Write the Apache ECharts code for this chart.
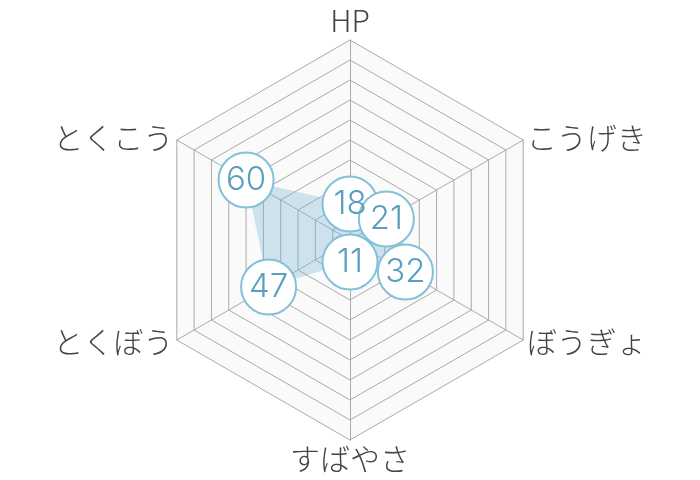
<!DOCTYPE html>
<html><head><meta charset="utf-8">
<script src="https://cdn.jsdelivr.net/npm/echarts@6/dist/echarts.min.js"></script>
<style>html,body{margin:0;padding:0;background:#fff}#c{width:700px;height:480px}</style>
</head><body><div id="c"></div>
<script>
// Categories clockwise from top, as in the reference
var categories = ['HP', 'こうげき', 'ぼうぎょ', 'すばやさ', 'とくぼう', 'とくこう'];
var values = [18, 21, 32, 11, 47, 60];
var maxValue = 100;

// ECharts radar runs counter-clockwise, so list the axes in reverse after HP
var order = [0, 5, 4, 3, 2, 1];
var radarCats = order.map(function (i) { return categories[i]; });
var radarVals = order.map(function (i) { return values[i]; });

var chart = echarts.init(document.getElementById('c'), null, {renderer: 'canvas'});
chart.setOption({
  animation: false,
  radar: {
    center: ['50%', '50%'],
    radius: 200,
    startAngle: 90,
    splitNumber: 10,
    shape: 'polygon',
    nameGap: 4,
    axisName: {
      color: '#444',
      fontSize: 30,
      fontWeight: 300,
      fontFamily: '"Noto Sans CJK JP", sans-serif'
    },
    splitLine: {lineStyle: {color: '#aaaaaa', width: 1}},
    splitArea: {show: true, areaStyle: {color: ['#fafafa']}},
    axisLine: {lineStyle: {color: '#aaaaaa', width: 1}},
    indicator: radarCats.map(function (c) { return {name: c, max: maxValue, min: 0}; })
  },
  series: [{
    type: 'radar',
    symbol: 'circle',
    symbolSize: 55,
    itemStyle: {color: '#ffffff', borderColor: '#84c1d9', borderWidth: 2},
    lineStyle: {width: 0, color: 'rgba(116,180,208,0.45)'},
    areaStyle: {color: 'rgba(116,180,208,0.47)'},
    label: {
      show: true,
      position: 'inside',
      color: '#5a9fbe',
      fontSize: 33,
      fontWeight: 300,
      fontFamily: 'Inter, "Open Sans", sans-serif'
    },
    data: [{value: radarVals}]
  }]
});
</script></body></html>
